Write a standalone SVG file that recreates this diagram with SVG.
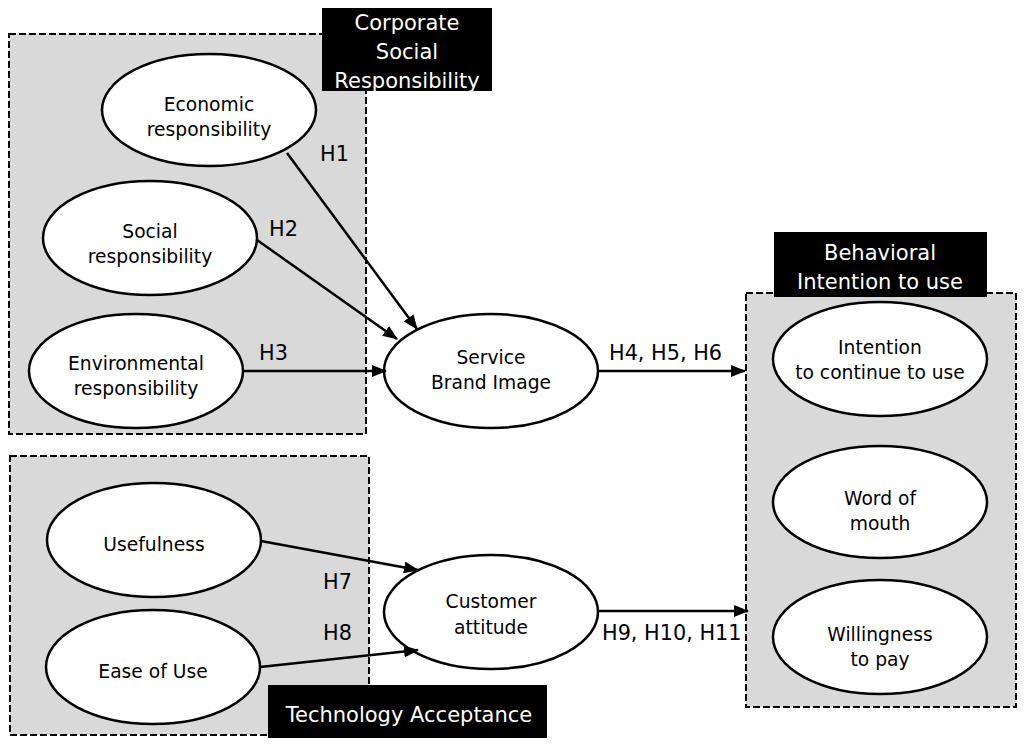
<svg xmlns="http://www.w3.org/2000/svg" width="1024" height="744" viewBox="0 0 1024 744">
<style>
.grp{fill:#d9d9d9;stroke:#000;stroke-width:2;stroke-dasharray:7 3}
.lbl{fill:#000}
.lt{font-family:"DejaVu Sans",Verdana,sans-serif;font-size:21px;fill:#fff;text-anchor:middle}
.node ellipse{fill:#fff;stroke:#000;stroke-width:2.5}
.nt{font-family:"DejaVu Sans",Verdana,sans-serif;font-size:18.7px;fill:#000;text-anchor:middle}
.ht{font-family:"DejaVu Sans",Verdana,sans-serif;font-size:20.8px;fill:#000}
.edge{stroke:#000;stroke-width:2.5;fill:none;marker-end:url(#ah)}
</style>
<defs>
<marker id="ah" viewBox="0 0 15 12" refX="14" refY="6" markerWidth="15" markerHeight="12" markerUnits="userSpaceOnUse" orient="auto">
<path d="M0,0 L15,6 L0,12 Z" fill="#000"/>
</marker>
</defs>
<rect width="1024" height="744" fill="#fff"/>

<g id="group-csr">
<rect class="grp" x="9" y="34" width="357" height="400"/>
<rect class="lbl" x="322" y="8" width="170" height="83"/>
<text class="lt" x="407" y="30">Corporate</text>
<text class="lt" x="407" y="59">Social</text>
<text class="lt" x="407" y="88">Responsibility</text>
</g>

<g id="group-ta">
<rect class="grp" x="10" y="456" width="359" height="279"/>
<rect class="lbl" x="268" y="685" width="279" height="53"/>
<text class="lt" x="409" y="722">Technology  Acceptance</text>
</g>

<g id="group-bi">
<rect class="grp" x="746" y="293" width="270" height="414"/>
<rect class="lbl" x="774" y="232" width="213" height="65"/>
<text class="lt" x="880" y="260">Behavioral</text>
<text class="lt" x="880" y="289">Intention to use</text>
</g>

<g id="node-economic" class="node">
<ellipse cx="209" cy="110" rx="107" ry="56"/>
<text class="nt" x="209" y="111">Economic</text>
<text class="nt" x="209" y="136">responsibility</text>
</g>
<g id="node-social" class="node">
<ellipse cx="150" cy="238" rx="107" ry="57"/>
<text class="nt" x="150" y="238">Social</text>
<text class="nt" x="150" y="263">responsibility</text>
</g>
<g id="node-environmental" class="node">
<ellipse cx="136" cy="371" rx="107" ry="57"/>
<text class="nt" x="136" y="370">Environmental</text>
<text class="nt" x="136" y="395">responsibility</text>
</g>
<g id="node-brand" class="node">
<ellipse cx="491" cy="371" rx="107" ry="57"/>
<text class="nt" x="491" y="364">Service</text>
<text class="nt" x="491" y="389">Brand Image</text>
</g>
<g id="node-usefulness" class="node">
<ellipse cx="154" cy="540" rx="107" ry="57"/>
<text class="nt" x="154" y="551">Usefulness</text>
</g>
<g id="node-ease" class="node">
<ellipse cx="153" cy="667" rx="107" ry="57"/>
<text class="nt" x="153" y="678">Ease of Use</text>
</g>
<g id="node-attitude" class="node">
<ellipse cx="491" cy="612" rx="107" ry="57"/>
<text class="nt" x="491" y="608">Customer</text>
<text class="nt" x="491" y="634">attitude</text>
</g>
<g id="node-intention" class="node">
<ellipse cx="880" cy="359" rx="107" ry="57"/>
<text class="nt" x="880" y="354">Intention</text>
<text class="nt" x="880" y="379">to continue to use</text>
</g>
<g id="node-wom" class="node">
<ellipse cx="880" cy="502" rx="107" ry="56"/>
<text class="nt" x="880" y="505">Word of</text>
<text class="nt" x="880" y="530">mouth</text>
</g>
<g id="node-pay" class="node">
<ellipse cx="880" cy="637" rx="107" ry="57"/>
<text class="nt" x="880" y="641">Willingness</text>
<text class="nt" x="880" y="666">to pay</text>
</g>

<g id="connectors">
<line class="edge" x1="287" y1="153" x2="417" y2="329"/>
<line class="edge" x1="257" y1="240" x2="397" y2="339"/>
<line class="edge" x1="242" y1="371" x2="386" y2="371"/>
<line class="edge" x1="598" y1="371" x2="745" y2="371"/>
<line class="edge" x1="261" y1="541" x2="418" y2="570"/>
<line class="edge" x1="260" y1="667" x2="418" y2="650"/>
<line class="edge" x1="598" y1="611" x2="748" y2="611"/>
<text class="ht" x="320" y="161">H1</text>
<text class="ht" x="269" y="236">H2</text>
<text class="ht" x="259" y="360">H3</text>
<text class="ht" x="609" y="360">H4, H5, H6</text>
<text class="ht" x="323" y="589">H7</text>
<text class="ht" x="323" y="640">H8</text>
<text class="ht" x="602" y="640">H9, H10, H11</text>
</g>
</svg>
